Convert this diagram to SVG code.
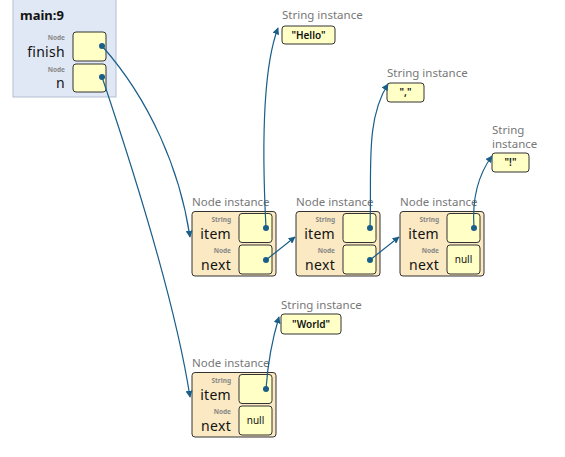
<svg xmlns="http://www.w3.org/2000/svg" width="565" height="457" viewBox="0 0 565 457">
<defs>
<marker id="ah" viewBox="0 0 10 10" refX="9" refY="5" markerWidth="7" markerHeight="7" orient="auto" markerUnits="userSpaceOnUse">
<path d="M0,0 L10,5 L0,10 z" fill="#1a5e8a"/>
</marker>
<style>
text{font-family:"Noto Sans","Open Sans",sans-serif}
.frame{fill:#e0e8f5;stroke:#b5bfcc;stroke-width:1}
.obj{fill:#fae9c3;stroke:#333;stroke-width:1}
.fld{fill:#ffffc6;stroke:#333;stroke-width:1}
.str{fill:#ffffc6;stroke:#333;stroke-width:1}
.tiny{font-size:6.5px;fill:#888;text-anchor:end;font-weight:bold}
.name{font-size:14px;fill:#111;text-anchor:end;letter-spacing:0.3px}
.olbl{font-size:11.5px;fill:#777}
.sval{font-size:10px;fill:#111;text-anchor:middle;font-weight:600}
.null{font-size:10px;fill:#111;text-anchor:middle}
.dot{fill:#1a5e8a}
.arr{fill:none;stroke:#1a5e8a;stroke-width:1.2;marker-end:url(#ah)}
</style>
</defs>
<g id="frame">
<rect class="frame" x="13" y="-2" width="103" height="99"/>
<text x="20" y="20" style="font-size:13px;fill:#111;font-weight:bold">main:9</text>
<text class="tiny" x="65" y="40">Node</text>
<text class="name" x="65" y="57">finish</text>
<rect class="fld" x="73" y="32" width="33" height="29" rx="3"/>
<circle class="dot" cx="102" cy="46" r="3"/>
<text class="tiny" x="65" y="72">Node</text>
<text class="name" x="65" y="88">n</text>
<rect class="fld" x="73" y="64" width="33" height="28" rx="3"/>
<circle class="dot" cx="102" cy="77" r="3"/>
</g>
<g id="node1">
<text class="olbl" x="192" y="206">Node instance</text>
<rect class="obj" x="192" y="211.5" width="84" height="64.5" rx="3"/>
<text class="tiny" x="231" y="222">String</text>
<text class="name" x="231" y="239">item</text>
<rect class="fld" x="239" y="213.5" width="33" height="29" rx="3"/>
<circle class="dot" cx="266" cy="228" r="3"/>
<text class="tiny" x="231" y="253">Node</text>
<text class="name" x="231" y="270">next</text>
<rect class="fld" x="239" y="245" width="33" height="29" rx="3"/>
<circle class="dot" cx="266" cy="260" r="3"/>
</g>
<g id="node2">
<text class="olbl" x="296" y="206">Node instance</text>
<rect class="obj" x="296" y="211.5" width="84" height="64.5" rx="3"/>
<text class="tiny" x="335" y="222">String</text>
<text class="name" x="335" y="239">item</text>
<rect class="fld" x="343" y="213.5" width="33" height="29" rx="3"/>
<circle class="dot" cx="370" cy="228" r="3"/>
<text class="tiny" x="335" y="253">Node</text>
<text class="name" x="335" y="270">next</text>
<rect class="fld" x="343" y="245" width="33" height="29" rx="3"/>
<circle class="dot" cx="370" cy="260" r="3"/>
</g>
<g id="node3">
<text class="olbl" x="400" y="206">Node instance</text>
<rect class="obj" x="400" y="211.5" width="84" height="64.5" rx="3"/>
<text class="tiny" x="439" y="222">String</text>
<text class="name" x="439" y="239">item</text>
<rect class="fld" x="447" y="213.5" width="33" height="29" rx="3"/>
<circle class="dot" cx="474" cy="228" r="3"/>
<text class="tiny" x="439" y="253">Node</text>
<text class="name" x="439" y="270">next</text>
<rect class="fld" x="447" y="245" width="33" height="29" rx="3"/>
<text class="null" x="463.5" y="263">null</text>
</g>
<g id="node4">
<text class="olbl" x="192" y="367">Node instance</text>
<rect class="obj" x="192" y="372.5" width="84" height="64.5" rx="3"/>
<text class="tiny" x="231" y="383">String</text>
<text class="name" x="231" y="400">item</text>
<rect class="fld" x="239" y="374.5" width="33" height="29" rx="3"/>
<circle class="dot" cx="266" cy="389" r="3"/>
<text class="tiny" x="231" y="414">Node</text>
<text class="name" x="231" y="431">next</text>
<rect class="fld" x="239" y="406" width="33" height="29" rx="3"/>
<text class="null" x="255.5" y="424">null</text>
</g>
<g id="strHello">
<text class="olbl" x="282" y="19">String instance</text>
<rect class="str" x="282" y="26" width="53" height="18" rx="3"/>
<text class="sval" x="308.5" y="39">"Hello"</text>
</g>
<g id="strComma">
<text class="olbl" x="387" y="77">String instance</text>
<rect class="str" x="387" y="83" width="37" height="19" rx="3"/>
<text class="sval" x="405.5" y="96">","</text>
</g>
<g id="strBang">
<text class="olbl" x="492" y="134">String</text>
<text class="olbl" x="492" y="148">instance</text>
<rect class="str" x="492" y="153" width="37" height="19" rx="3"/>
<text class="sval" x="510.5" y="166">"!"</text>
</g>
<g id="strWorld">
<text class="olbl" x="281" y="309">String instance</text>
<rect class="str" x="281" y="314" width="60" height="20" rx="3"/>
<text class="sval" x="311" y="328">"World"</text>
</g>
<g id="connectors">
<path class="arr" d="M102,46 C150,100 180,170 190,237"/>
<path class="arr" d="M102,77 C130,160 175,300 190,397"/>
<path class="arr" d="M266,228 C262,150 262,70 278,28"/>
<path class="arr" d="M370,228 C372,170 365,120 388,84"/>
<path class="arr" d="M474,228 C472,200 478,175 492,156"/>
<path class="arr" d="M266,389 C268,360 272,340 279,317"/>
<path class="arr" d="M266,260 L295,237"/>
<path class="arr" d="M370,260 L399,237"/>
</g>
</svg>
